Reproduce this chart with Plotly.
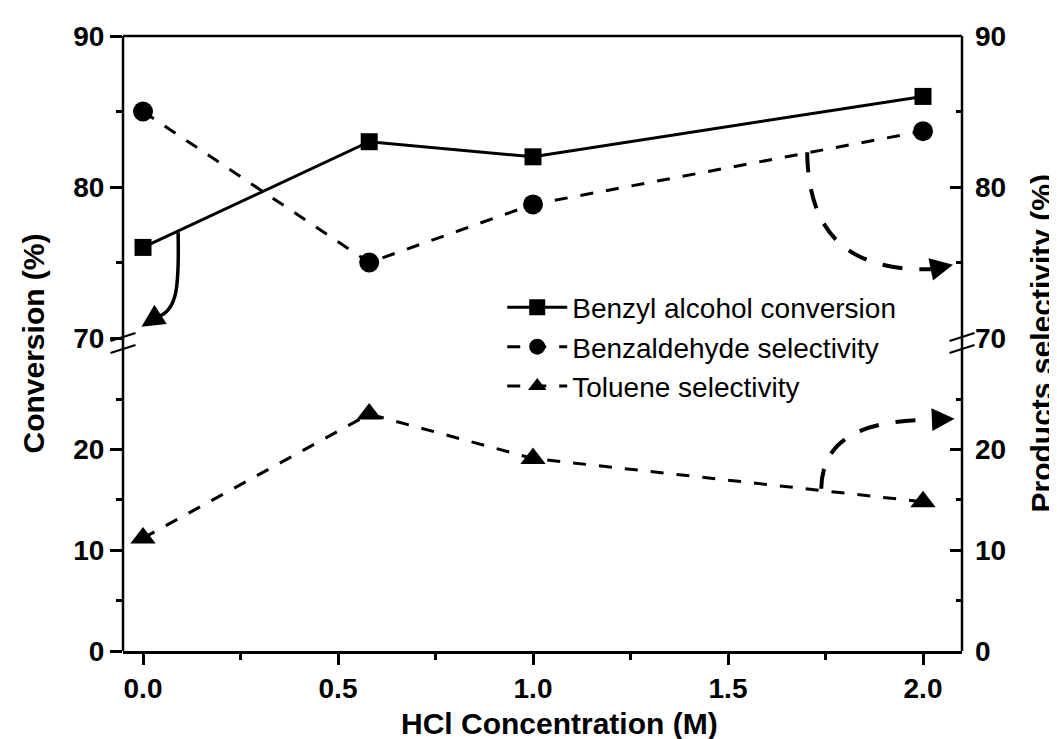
import plotly.graph_objects as go

# ---------------- data ----------------
hcl = [0.0, 0.58, 1.0, 2.0]
conversion = [76.0, 83.0, 82.0, 86.0]
benzaldehyde_sel = [85.0, 75.0, 78.85, 83.7]
toluene_sel = [11.2, 23.5, 19.1, 14.8]

series_names = ["Benzyl alcohol conversion", "Benzaldehyde selectivity", "Toluene selectivity"]

x_ticks = [0.0, 0.5, 1.0, 1.5, 2.0]
x_tick_labels = ["0.0", "0.5", "1.0", "1.5", "2.0"]
x_minor = [0.25, 0.75, 1.25, 1.75]
upper_ticks = [70, 80, 90]
upper_minor = [75, 85]
lower_ticks = [0, 10, 20]
lower_minor = [5, 15, 25]

# curved annotation arrows (data coordinates): start, control1, control2, end, tip
arrow_conv = [(0.09, 77.0), (0.093, 73.3), (0.088, 71.7), (0.032, 71.35), (-0.004, 70.75)]
arrow_benz = [(1.703, 82.3), (1.706, 76.6), (1.82, 74.45), (2.02, 74.55), (2.077, 74.85)]
arrow_tol = [(1.739, 16.1), (1.742, 20.8), (1.83, 22.85), (2.02, 22.95), (2.081, 23.05)]

FONT = "Liberation Sans, Arial, Helvetica, sans-serif"
W, H = 1057, 739
ML, MR, MT, MB = 115, 103, 28, 96
PW, PH = W - ML - MR, H - MT - MB
XR = [-0.0513, 2.1]
UP_DOM = [0.5089, 1.0]
LO_DOM = [0.0, 0.4917]

fig = go.Figure()

fig.add_trace(go.Scatter(
    x=hcl, y=conversion, name=series_names[0], xaxis="x", yaxis="y2",
    mode="lines+markers", line=dict(color="black", width=3),
    marker=dict(symbol="square", size=17, color="black")))
fig.add_trace(go.Scatter(
    x=hcl, y=benzaldehyde_sel, name=series_names[1], xaxis="x", yaxis="y3",
    mode="lines+markers", line=dict(color="black", width=3, dash="13px,13px"),
    marker=dict(symbol="circle", size=20, color="black")))
fig.add_trace(go.Scatter(
    x=hcl, y=toluene_sel, name=series_names[2], xaxis="x", yaxis="y4",
    mode="lines+markers", line=dict(color="black", width=3, dash="13px,13px"),
    marker=dict(symbol="triangle-up", size=22, color="black")))

tickfont = dict(family=FONT, size=28, color="black", weight="bold")
common_y = dict(showgrid=False, zeroline=False, showline=False, tickfont=tickfont,
                ticklen=12, tickwidth=2.5, tickcolor="black", fixedrange=True)

fig.update_layout(
    width=W, height=H,
    margin=dict(l=ML, r=MR, t=MT, b=MB),
    paper_bgcolor="white", plot_bgcolor="white",
    showlegend=True,
    legend=dict(x=0.452, y=0.599, xanchor="left", yanchor="top",
                font=dict(family=FONT, size=28, color="black"),
                bgcolor="rgba(0,0,0,0)", itemwidth=60, tracegroupgap=0),
    xaxis=dict(domain=[0, 1], range=XR, anchor="y", tickvals=x_ticks, ticktext=x_tick_labels,
               ticks="outside", ticklen=11, tickwidth=2.5, tickcolor="black",
               minor=dict(tickvals=x_minor, ticks="outside", ticklen=6, tickwidth=2.5, tickcolor="black"),
               showline=True, linewidth=2.5, linecolor="black", showgrid=False, zeroline=False,
               tickfont=tickfont, fixedrange=True),
    yaxis=dict(domain=LO_DOM, range=[0, 30], anchor="x", tickvals=lower_ticks, ticks="outside",
               minor=dict(tickvals=lower_minor, ticks="outside", ticklen=6, tickwidth=2.5, tickcolor="black"),
               **common_y),
    yaxis2=dict(domain=UP_DOM, range=[70, 90], anchor="x", tickvals=upper_ticks, ticks="outside",
                minor=dict(tickvals=upper_minor, ticks="outside", ticklen=6, tickwidth=2.5, tickcolor="black"),
                **common_y),
    yaxis3=dict(overlaying="y2", side="right", range=[70, 90], anchor="x", tickvals=upper_ticks,
                ticks="inside", ticklabelstandoff=12,
                minor=dict(tickvals=upper_minor, ticks="inside", ticklen=6, tickwidth=2.5, tickcolor="black"),
                **common_y),
    yaxis4=dict(overlaying="y", side="right", range=[0, 30], anchor="x", tickvals=lower_ticks,
                ticks="inside", ticklabelstandoff=12,
                minor=dict(tickvals=lower_minor, ticks="inside", ticklen=6, tickwidth=2.5, tickcolor="black"),
                **common_y),
)

shapes = []
# frame: full-height spines and top line
for xp in (0, 1):
    shapes.append(dict(type="line", xref="paper", yref="paper", x0=xp, x1=xp, y0=0, y1=1,
                       line=dict(color="black", width=2.5)))
shapes.append(dict(type="line", xref="paper", yref="paper", x0=0, x1=1, y0=1, y1=1,
                   line=dict(color="black", width=2.5)))
# axis break marks
for xc in (0.0, 1.0):
    for yc in (0.5106, 0.4911):
        shapes.append(dict(type="line", xref="paper", yref="paper",
                           x0=xc - 0.0149, x1=xc + 0.0149, y0=yc - 0.0065, y1=yc + 0.0065,
                           line=dict(color="black", width=2.2)))


def bez(pts):
    (x0, y0), (x1, y1), (x2, y2), (x3, y3) = pts[:4]
    return f"M {x0},{y0} C {x1},{y1} {x2},{y2} {x3},{y3}"


shapes.append(dict(type="path", xref="x", yref="y2", path=bez(arrow_conv),
                   line=dict(color="black", width=3.5)))
shapes.append(dict(type="path", xref="x", yref="y2", path=bez(arrow_benz),
                   line=dict(color="black", width=4, dash="20px,17px")))
shapes.append(dict(type="path", xref="x", yref="y", path=bez(arrow_tol),
                   line=dict(color="black", width=4, dash="20px,17px")))
fig.update_layout(shapes=shapes)


def to_px(x, y, upper):
    px = ML + (x - XR[0]) / (XR[1] - XR[0]) * PW
    if upper:
        d0, d1, r0, r1 = UP_DOM[0], UP_DOM[1], 70, 90
    else:
        d0, d1, r0, r1 = LO_DOM[0], LO_DOM[1], 0, 30
    frac = d0 + (y - r0) / (r1 - r0) * (d1 - d0)
    py = MT + (1 - frac) * PH
    return px, py


annotations = []
for arr, yref, upper in ((arrow_conv, "y2", True), (arrow_benz, "y2", True), (arrow_tol, "y", False)):
    ex, ey = to_px(*arr[3], upper)
    tx, ty = to_px(*arr[4], upper)
    annotations.append(dict(x=arr[4][0], y=arr[4][1], xref="x", yref=yref, text="",
                            showarrow=True, ax=ex - tx, ay=ey - ty, arrowhead=2,
                            arrowsize=1.3, arrowwidth=3.5, arrowcolor="black", standoff=0))

titlefont = dict(family=FONT, size=30, color="black", weight="bold")
annotations.append(dict(text="Conversion (%)", xref="paper", yref="paper",
                        x=(25 - ML) / PW, y=0.5, textangle=-90, showarrow=False,
                        xanchor="center", yanchor="middle", font=titlefont))
annotations.append(dict(text="Products selectivity (%)", xref="paper", yref="paper",
                        x=(1033 - ML) / PW, y=0.5, textangle=-90, showarrow=False,
                        xanchor="center", yanchor="middle", font=titlefont))
annotations.append(dict(text="HCl Concentration (M)", xref="paper", yref="paper",
                        x=(551 - ML) / PW, y=-(715 - (MT + PH)) / PH, showarrow=False,
                        xanchor="center", yanchor="middle", font=titlefont))
fig.update_layout(annotations=annotations)

fig.write_html("out.html")
